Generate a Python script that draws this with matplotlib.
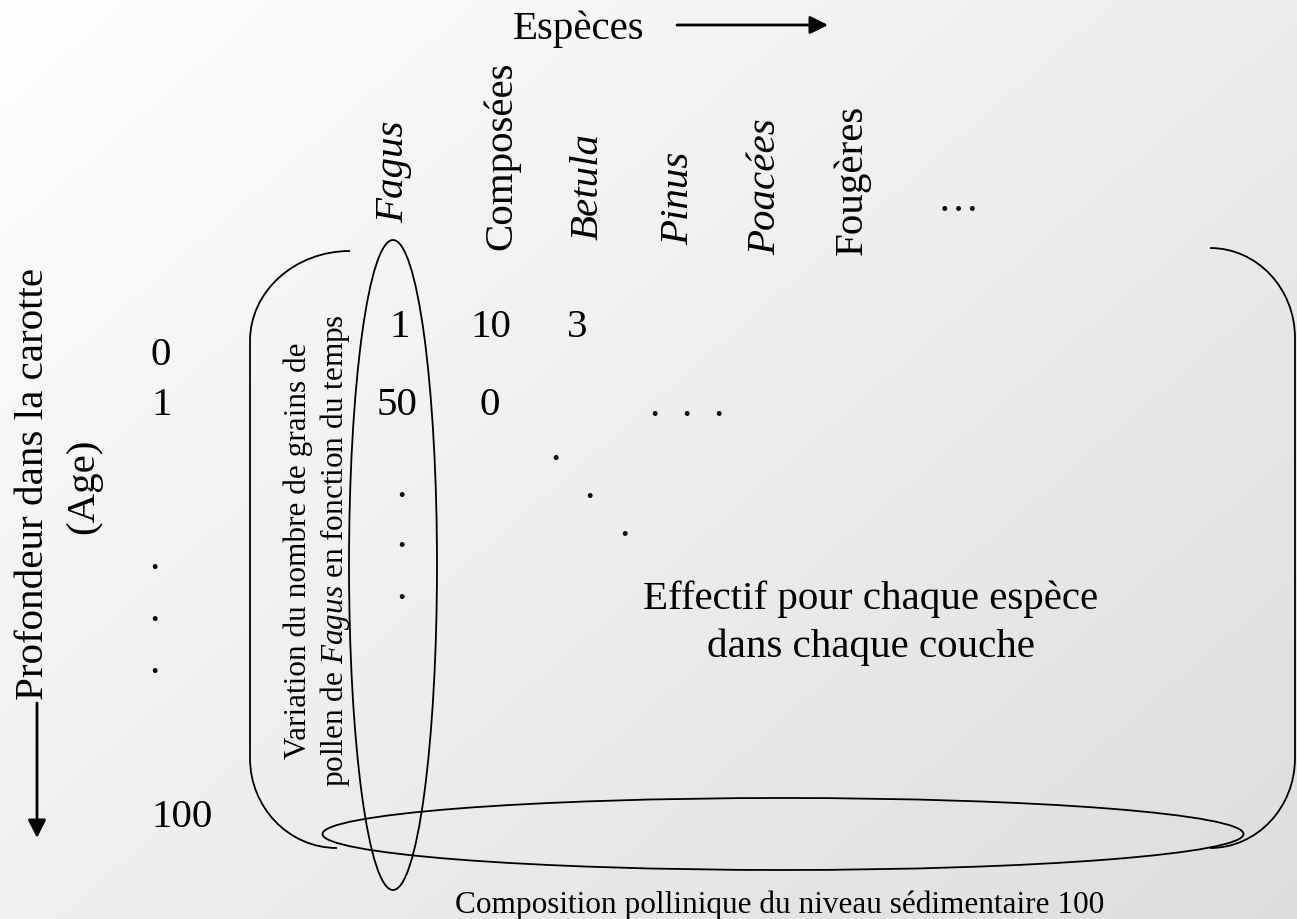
import matplotlib.pyplot as plt
import numpy as np
from matplotlib.patches import Ellipse, PathPatch
from matplotlib.path import Path

plt.rcParams['font.family'] = ['Liberation Serif', 'DejaVu Serif']
plt.rcParams['mathtext.fontset'] = 'custom'
plt.rcParams['mathtext.rm'] = 'Liberation Serif'
plt.rcParams['mathtext.it'] = 'Liberation Serif:italic'

# data
species = ["Fagus", "Composées", "Betula", "Pinus", "Poacées", "Fougères"]
species_italic = [True, False, True, True, True, False]
row0_counts = ["1", "10", "3"]
row1_counts = ["50", "0"]
depth_labels = ["0", "1", "100"]

# layout (pixels, origin top-left)
W, H = 1297, 919
species_x = [403, 511, 598, 688, 775, 862]
species_y = [223, 250, 240, 245, 255, 255]
row0_x = [400, 491, 577]
row1_x = [397, 490]
depth_y = [365, 415, 827]
FS = 29.5
LW = 1.3

fig = plt.figure(figsize=(W / 100, H / 100), dpi=100)
ax = fig.add_axes([0, 0, 1, 1])
ax.set_xlim(0, W)
ax.set_ylim(H, 0)
ax.axis('off')

# background gradient
gx, gy = np.meshgrid(np.linspace(0, 1, 200), np.linspace(0, 1, 200))
grad = 0.995 - 0.13 * (0.55 * gx + 0.45 * gy)
ax.imshow(grad, extent=(0, W, H, 0), cmap='gray', vmin=0, vmax=1,
          aspect='auto', zorder=0, interpolation='bilinear')

# top title + arrow
ax.text(513, 39, "Espèces", fontsize=FS, ha='left', va='baseline')
ax.annotate('', xy=(828, 25), xytext=(677, 25),
            arrowprops=dict(arrowstyle='-|>', lw=2, color='black',
                            mutation_scale=27, shrinkA=0, shrinkB=0))

# species labels
for name, it, x, y in zip(species, species_italic, species_x, species_y):
    ax.text(x, y, name, fontsize=FS, rotation=90, rotation_mode='anchor',
            ha='left', va='baseline', fontstyle='italic' if it else 'normal')
ax.text(958, 211, "…", fontsize=FS, ha='center', va='baseline')

# left axis label + arrow
ax.text(43, 484, "Profondeur dans la carotte", fontsize=FS, rotation=90,
        rotation_mode='anchor', ha='center', va='baseline')
ax.text(93, 486, "(Age)", fontsize=FS, rotation=90,
        rotation_mode='anchor', ha='center', va='baseline')
ax.annotate('', xy=(37, 838), xytext=(37, 703),
            arrowprops=dict(arrowstyle='-|>', lw=2, color='black',
                            mutation_scale=27, shrinkA=0, shrinkB=0))

# depth labels
for lab, y in zip(depth_labels, depth_y):
    ax.text(151, y, lab, fontsize=FS, ha='left', va='baseline')

# counts
for lab, x in zip(row0_counts, row0_x):
    ax.text(x, 337, lab, fontsize=FS, ha='center', va='baseline')
for lab, x in zip(row1_counts, row1_x):
    ax.text(x, 415, lab, fontsize=FS, ha='center', va='baseline')

# dots
dots = [(154, 567), (154, 619), (154, 671),
        (401, 495), (401, 545), (401, 597),
        (654, 414), (686, 414), (718, 414),
        (555, 458), (589, 496), (624, 534)]
for x, y in dots:
    ax.text(x, y + 2, ".", fontsize=FS, ha='center', va='baseline')

# annotations text
ax.text(306, 551, "Variation du nombre de grains de", fontsize=22.5, rotation=90,
        rotation_mode='anchor', ha='center', va='baseline')
ax.text(343, 551, r"pollen de $\mathit{Fagus}$ en fonction du temps", fontsize=22.5,
        rotation=90, rotation_mode='anchor', ha='center', va='baseline')
ax.text(871, 609, "Effectif pour chaque espèce", fontsize=FS, ha='center', va='baseline')
ax.text(871, 657, "dans chaque couche", fontsize=FS, ha='center', va='baseline')
ax.text(780, 913, "Composition pollinique du niveau sédimentaire 100", fontsize=22.5,
        ha='center', va='baseline')

# brackets
k = 0.5523
left = Path([(350, 251), (350 - 100 * k, 251), (250, 341 - 90 * k), (250, 341),
             (250, 758), (250, 758 + 90 * k), (337 - 87 * k, 848), (337, 848)],
            [Path.MOVETO, Path.CURVE4, Path.CURVE4, Path.CURVE4,
             Path.LINETO, Path.CURVE4, Path.CURVE4, Path.CURVE4])
right = Path([(1210, 248), (1210 + 85 * k, 248), (1295, 338 - 90 * k), (1295, 338),
              (1295, 758), (1295, 758 + 90 * k), (1210 + 85 * k, 848), (1210, 848)],
             [Path.MOVETO, Path.CURVE4, Path.CURVE4, Path.CURVE4,
              Path.LINETO, Path.CURVE4, Path.CURVE4, Path.CURVE4])
for p in (left, right):
    ax.add_patch(PathPatch(p, fill=False, lw=LW, edgecolor='black', zorder=3))

# ellipses
ax.add_patch(Ellipse((393, 565), 88, 650, fill=False, lw=LW, edgecolor='black', zorder=3))
ax.add_patch(Ellipse((783, 834), 921, 72, fill=False, lw=LW, edgecolor='black', zorder=3))

plt.savefig("out.png", dpi=100)
